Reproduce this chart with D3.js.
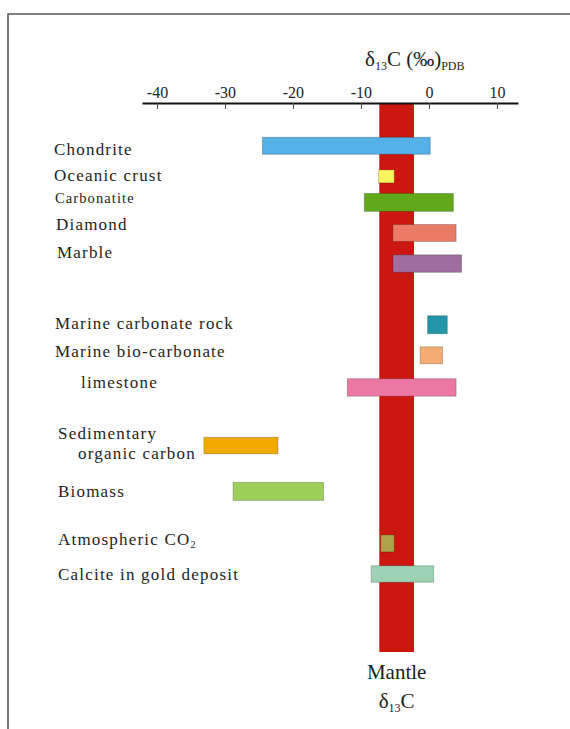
<!DOCTYPE html>
<html>
<head>
<meta charset="utf-8">
<script src="https://cdn.jsdelivr.net/npm/d3@7"></script>
<style>
  html, body { margin: 0; padding: 0; background: #fff; }
  svg { display: block; }
  text { font-family: "Liberation Serif", "Times New Roman", serif; fill: #1e1e1e; }
</style>
</head>
<body>
<svg id="chart" width="570" height="729"></svg>
<script>
// δ13C ranges (‰, PDB) of carbon reservoirs
const categories = [
  "Chondrite", "Oceanic crust", "Carbonatite", "Diamond", "Marble",
  "Marine carbonate rock", "Marine bio-carbonate", "limestone",
  "Sedimentary organic carbon", "Biomass", "Atmospheric CO2", "Calcite in gold deposit"
];
const rangeMin = [-24.5, -7.4, -9.5, -5.3, -5.3, -0.2, -1.3, -12.0, -33.1, -28.8, -7.1, -8.5];
const rangeMax = [  0.2, -5.1,  3.6,  4.0,  4.8,  2.7,  2.0,   4.0, -22.2, -15.5, -5.1,  0.7];
const mantleRange = [-7.3, -2.2];
const tickValues = [-40, -30, -20, -10, 0, 10];
const tickLabels = ["-40", "-30", "-20", "-10", "0", "10"];

// label lines for each category ("_" marks a subscript)
const labelLines = [
  ["Chondrite"], ["Oceanic crust"], ["Carbonatite"], ["Diamond"], ["Marble"],
  ["Marine carbonate rock"], ["Marine bio-carbonate"], ["limestone"],
  ["Sedimentary", "organic carbon"], ["Biomass"], ["Atmospheric CO_2"], ["Calcite in gold deposit"]
];

// styling and layout
const barColors = ["#56b0e8", "#fdf55a", "#62a91a", "#e97b67", "#a06d9f", "#2196a8",
                   "#f3ad72", "#ea78a2", "#f2aa00", "#9ecf5a", "#aea348", "#9dd2b5"];
const rowPos = [0, 1, 1.85, 2.85, 3.85, 5.85, 6.85, 7.9, 9.8, 11.3, 13, 14];
const barThick = [17, 13, 18, 17, 17.5, 18, 17, 17.5, 16.5, 18, 17, 16.5];
const labelPlace = [
  [[54, 0.30]], [[54, 1.15]], [[55, 1.88]], [[56, 2.75]], [[57, 3.66]],
  [[55, 5.99]], [[55, 6.9]], [[81, 7.93]], [[58, 9.59], [78, 10.24]],
  [[58, 11.49]], [[58, 13.05]], [[58, 14.2]]
];

const svg = d3.select("#chart");

const x = d3.scaleLinear().domain([-42.2, 13.1]).range([142, 518]);
const y = d3.scaleLinear().domain([0, 14]).range([145.8, 574]);
const axisY = 103;

// frame
svg.append("path")
  .attr("d", "M8,729V14H570")
  .attr("fill", "none")
  .attr("stroke", "#555")
  .attr("stroke-width", 1.6);

// mantle band
svg.append("rect")
  .attr("x", x(mantleRange[0]))
  .attr("width", x(mantleRange[1]) - x(mantleRange[0]))
  .attr("y", axisY)
  .attr("height", 652 - axisY)
  .attr("fill", "#cb1710");

// range bars
const rows = categories.map((c, i) => ({
  name: c, lo: rangeMin[i], hi: rangeMax[i], color: barColors[i], row: rowPos[i], h: barThick[i]
}));

svg.append("g").selectAll("rect")
  .data(rows)
  .join("rect")
  .attr("x", d => x(d.lo))
  .attr("width", d => x(d.hi) - x(d.lo))
  .attr("y", d => y(d.row) - d.h / 2)
  .attr("height", d => d.h)
  .attr("fill", d => d.color)
  .attr("stroke", "rgba(0,0,0,0.22)")
  .attr("stroke-width", 1);

// axis on top, ticks pointing down
const axis = d3.axisTop(x)
  .tickValues(tickValues)
  .tickSizeInner(-6)
  .tickSizeOuter(0)
  .tickPadding(5)
  .tickFormat((d, i) => tickLabels[i]);

const gAxis = svg.append("g")
  .attr("transform", `translate(0,${axisY})`)
  .call(axis);
gAxis.select(".domain").attr("stroke", "#111").attr("stroke-width", 2);
gAxis.selectAll(".tick line").attr("stroke", "#444").attr("stroke-width", 1);
gAxis.selectAll(".tick text")
  .attr("font-family", "Liberation Serif, serif")
  .attr("font-size", 16)
  .attr("fill", "#1e1e1e");

// axis title: δ13C (‰)PDB
const title = svg.append("text")
  .attr("x", 365).attr("y", 66)
  .attr("font-size", 21);
title.append("tspan").text("δ");
title.append("tspan").attr("font-size", 12).attr("dy", 4).text("13");
title.append("tspan").attr("dy", -4).text("C (‰)");
title.append("tspan").attr("font-size", 12).attr("dy", 4).text("PDB");

// category labels
rows.forEach((d, i) => {
  labelLines[i].forEach((line, j) => {
    const [lx, lr] = labelPlace[i][j];
    const t = svg.append("text")
      .attr("x", lx)
      .attr("y", y(lr))
      .attr("font-size", d.name === "Carbonatite" ? 14.5 : 17)
      .attr("letter-spacing", d.name === "Carbonatite" ? 1.1 : 1.2);
    const parts = line.split("_");
    t.append("tspan").text(parts[0]);
    if (parts[1]) {
      t.append("tspan").attr("font-size", 10).attr("dy", 3).text(parts[1]);
    }
  });
});

// mantle caption
const cx = (x(mantleRange[0]) + x(mantleRange[1])) / 2;
svg.append("text")
  .attr("x", cx).attr("y", 679)
  .attr("text-anchor", "middle")
  .attr("font-size", 21)
  .text("Mantle");
const cap = svg.append("text")
  .attr("x", cx).attr("y", 708)
  .attr("text-anchor", "middle")
  .attr("font-size", 21);
cap.append("tspan").text("δ");
cap.append("tspan").attr("font-size", 12).attr("dy", 4).text("13");
cap.append("tspan").attr("dy", -4).text("C");
</script>
</body>
</html>
